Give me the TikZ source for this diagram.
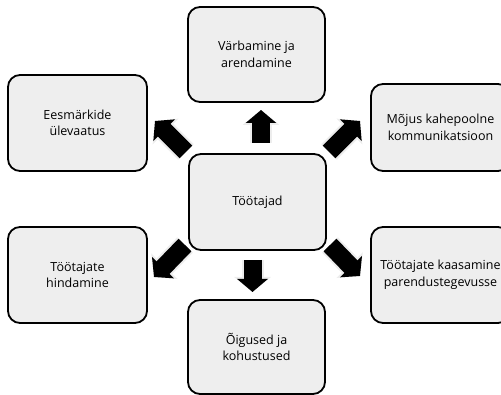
\documentclass[tikz,border=0pt]{standalone}
\usepackage{fontspec}
\setmainfont{Open Sans}
\usetikzlibrary{arrows.meta}
\definecolor{boxfill}{HTML}{EEEEEE}
\begin{document}
\begin{tikzpicture}[x=1pt,y=-1pt,
  card/.style={draw=black, line width=1.8pt, fill=boxfill, rounded corners=12pt,
    align=center, inner sep=0pt,
    font=\fontsize{12.5}{16.5}\selectfont},
  blockarrow/.style={line width=18pt, line cap=butt,
    -{Triangle[width=30pt,length=13pt]},
    preaction={draw=black!7, line width=22pt, -{Triangle[width=36pt,length=15pt]}}}]
  \useasboundingbox (0,0) rectangle (501,395);

  % boxes
  \node[card, minimum width=137pt, minimum height=96pt] (hub) at (257.5,202) {Töötajad};
  \node[card, minimum width=137pt, minimum height=95pt] (top) at (256.5,54.5) {Värbamine ja\\arendamine};
  \node[card, minimum width=139pt, minimum height=96pt] (nw) at (77.5,123) {Eesmärkide\\ülevaatus};
  \node[card, minimum width=139pt, minimum height=87pt] (ne) at (440.5,127.5) {Mõjus kahepoolne\\kommunikatsioon};
  \node[card, minimum width=139pt, minimum height=96pt] (sw) at (77.5,275) {Töötajate\\hindamine};
  \node[card, minimum width=139pt, minimum height=96pt] (se) at (440.5,275) {Töötajate kaasamine\\parendustegevusse};
  \node[card, minimum width=137pt, minimum height=94pt] (bot) at (256.5,347) {Õigused ja\\kohustused};

  % arrow ends
  \coordinate (upT) at (261,143);   \coordinate (upH) at (261,110);
  \coordinate (dnT) at (252.5,260); \coordinate (dnH) at (252.5,292);
  \coordinate (nwT) at (186,152);   \coordinate (nwH) at (155,121);
  \coordinate (neT) at (329,152);   \coordinate (neH) at (360,121);
  \coordinate (swT) at (185,245);   \coordinate (swH) at (154,277);
  \coordinate (seT) at (330,245);   \coordinate (seH) at (360,276);

  % block arrows from the hub outwards
  \foreach \a in {up,dn,nw,ne,sw,se}
    \draw[blockarrow] (\a T) -- (\a H);
\end{tikzpicture}
\end{document}
